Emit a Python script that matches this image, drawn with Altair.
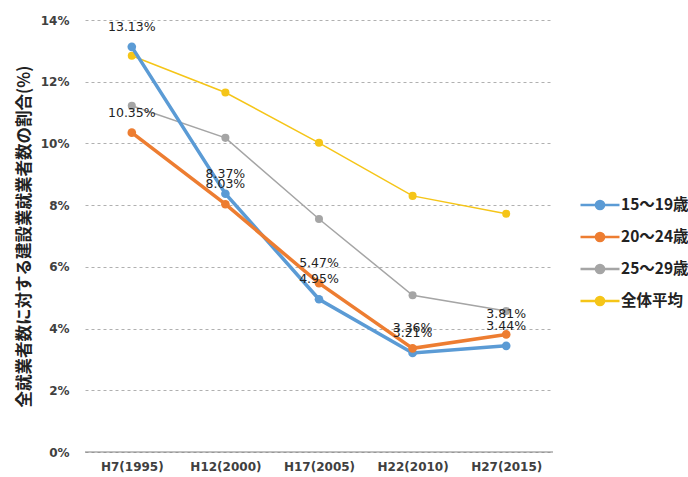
import altair as alt
import pandas as pd

years = ["H7(1995)", "H12(2000)", "H17(2005)", "H22(2010)", "H27(2015)"]
series_names = ["15～19歳", "20～24歳", "25～29歳", "全体平均"]
v15_19 = [13.13, 8.37, 4.95, 3.21, 3.44]
v20_24 = [10.35, 8.03, 5.47, 3.36, 3.81]
v25_29 = [11.22, 10.18, 7.55, 5.08, 4.57]
v_all = [12.84, 11.65, 10.02, 8.30, 7.72]
colors = ["#5B9BD5", "#ED7D31", "#A5A5A5", "#F5C518"]
thick_series = ["15～19歳", "20～24歳"]

rows = []
for name, vals in zip(series_names, [v15_19, v20_24, v25_29, v_all]):
    for y, v in zip(years, vals):
        rows.append({"year": y, "series": name, "value": v / 100.0,
                     "label": f"{v:.2f}%"})
df = pd.DataFrame(rows)

x = alt.X("year:N", sort=years, title=None,
          axis=alt.Axis(labelAngle=0, ticks=False, domain=False, labelPadding=9,
                        labelFontSize=12, labelFontWeight="bold", labelColor="#404040",
                        labelFont="DejaVu Sans"),
          scale=alt.Scale(paddingOuter=0.5, paddingInner=0))
y = alt.Y("value:Q", title="全就業者数に対する建設業就業者数の割合(%)",
          scale=alt.Scale(domain=[0, 0.14], nice=False),
          axis=alt.Axis(format=".0%", values=[0, 0.02, 0.04, 0.06, 0.08, 0.10, 0.12, 0.14],
                        ticks=False, domain=False, grid=True, gridDash=[3, 3],
                        gridColor="#B0B0B0", labelFontSize=12, labelFontWeight="bold",
                        labelColor="#404040", labelPadding=16, labelFont="DejaVu Sans",
                        titleFont="Noto Sans CJK JP", titleFontSize=16.5,
                        titleFontWeight="bold", titleColor="#222222", titlePadding=8))

color = alt.Color("series:N", sort=series_names,
                  scale=alt.Scale(domain=series_names, range=colors),
                  legend=alt.Legend(title=None, orient="none", legendX=504, legendY=174,
                                    labelFont="Noto Sans CJK JP", labelFontSize=15.5,
                                    labelFontWeight="bold", labelColor="#222222",
                                    rowPadding=11, symbolSize=380,
                                    symbolStrokeWidth=2.5,
                                    symbolType="M-2,0L2,0M-0.42,0A0.42,0.42,0,1,0,0.42,0A0.42,0.42,0,1,0,-0.42,0",
                                    labelOffset=10))

base = alt.Chart(df)
zero = alt.Chart(pd.DataFrame({"z": [0.0]})).mark_rule(color="#808080", strokeWidth=1).encode(y="z:Q")

thick = base.transform_filter(alt.FieldOneOfPredicate(field="series", oneOf=thick_series))
thin = base.transform_filter(~alt.FieldOneOfPredicate(field="series", oneOf=thick_series))

thin_lines = thin.mark_line(strokeWidth=1.5).encode(x=x, y=y, color=color)
thin_points = thin.mark_circle(size=65, opacity=1).encode(x=x, y=y, color=color)
thick_lines = thick.mark_line(strokeWidth=3.5).encode(x=x, y=y, color=color)
thick_points = thick.mark_circle(size=75, opacity=1).encode(x=x, y=y, color=color)
texts = thick.mark_text(dy=-20, fontSize=12.5, font="DejaVu Sans", color="#222222").encode(
    x=x, y=y, text="label:N")

chart = alt.layer(zero, thin_lines, thin_points, thick_lines, thick_points, texts).properties(
    width=468, height=432,
    autosize=alt.AutoSizeParams(type="none"),
    padding={"left": 85, "top": 20, "right": 135, "bottom": 25},
).configure_view(stroke=None)

chart.save("out.html", embed_options={"renderer": "svg", "actions": False})
